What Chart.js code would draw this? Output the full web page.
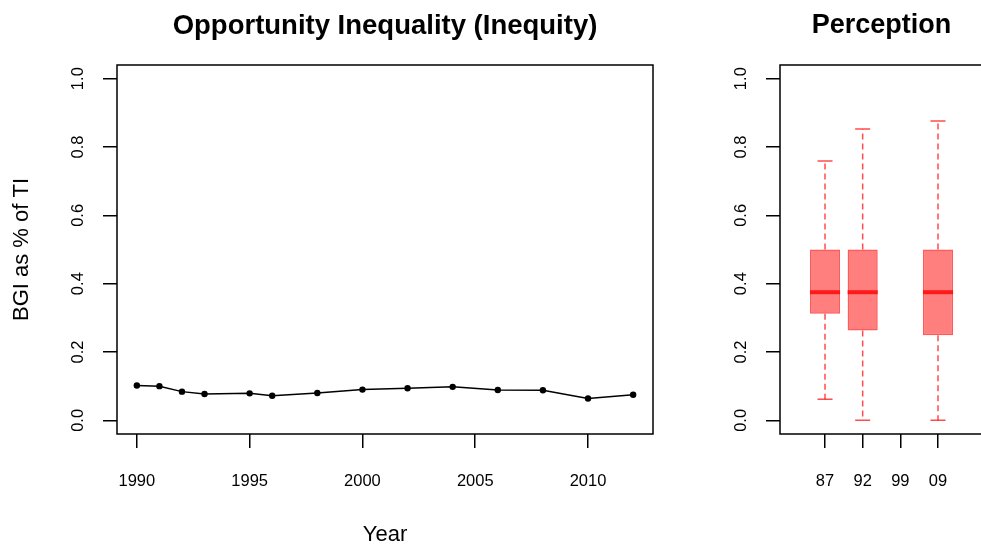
<!DOCTYPE html>
<html>
<head>
<meta charset="utf-8">
<script src="https://cdn.jsdelivr.net/npm/chart.js@4"></script>
<style>
  html, body { margin: 0; padding: 0; background: #fff; overflow: hidden; width: 981px; height: 545px; }
  canvas { position: absolute; top: 0; }
  #inequityChart { left: 0; }
  #perceptionChart { left: 700px; }
</style>
</head>
<body>
<canvas id="inequityChart" width="770" height="545"></canvas>
<canvas id="perceptionChart" width="363" height="545"></canvas>
<script>
const years = [1990, 1991, 1992, 1993, 1995, 1996, 1998, 2000, 2002, 2004, 2006, 2008, 2010, 2012];
const bgiShare = [0.102, 0.100, 0.084, 0.077, 0.079, 0.072, 0.080, 0.090, 0.094, 0.098, 0.089, 0.088, 0.064, 0.075];
const yearTicks = [1990, 1995, 2000, 2005, 2010];
const shareTicks = [0, 0.2, 0.4, 0.6, 0.8, 1.0];

const waves = ['87', '92', '99', '09'];
const whiskerLow = [0.062, 0, null, 0];
const boxQ1 = [0.312, 0.263, null, 0.249];
const boxMedian = [0.375, 0.375, null, 0.375];
const boxQ3 = [0.5, 0.5, null, 0.5];
const whiskerHigh = [0.759, 0.853, null, 0.876];

Chart.defaults.font.family = '"Liberation Sans", Arial, Helvetica, sans-serif';
Chart.defaults.color = '#000';

const frame = {
  id: 'frame',
  afterDraw(chart) {
    const { ctx, chartArea: a } = chart;
    ctx.save();
    ctx.strokeStyle = '#000';
    ctx.lineWidth = 1.5;
    ctx.strokeRect(a.left, a.top, a.right - a.left, a.bottom - a.top);
    ctx.restore();
  }
};

const boxWhiskers = {
  id: 'boxWhiskers',
  afterDatasetsDraw(chart) {
    const { ctx, scales: { x, y } } = chart;
    const meta = chart.getDatasetMeta(0);
    ctx.save();
    waves.forEach((w, i) => {
      if (boxQ1[i] === null) return;
      const cx = x.getPixelForValue(i + 1);
      const half = meta.data[i].width / 2;
      const cap = half / 2;
      ctx.strokeStyle = 'rgba(255,0,0,0.7)';
      ctx.lineWidth = 1.5;
      ctx.setLineDash([6, 4]);
      ctx.beginPath();
      ctx.moveTo(cx, y.getPixelForValue(boxQ3[i]));
      ctx.lineTo(cx, y.getPixelForValue(whiskerHigh[i]));
      ctx.moveTo(cx, y.getPixelForValue(boxQ1[i]));
      ctx.lineTo(cx, y.getPixelForValue(whiskerLow[i]));
      ctx.stroke();
      ctx.setLineDash([]);
      ctx.beginPath();
      ctx.moveTo(cx - cap, y.getPixelForValue(whiskerHigh[i]));
      ctx.lineTo(cx + cap, y.getPixelForValue(whiskerHigh[i]));
      ctx.moveTo(cx - cap, y.getPixelForValue(whiskerLow[i]));
      ctx.lineTo(cx + cap, y.getPixelForValue(whiskerLow[i]));
      ctx.stroke();
      ctx.strokeStyle = 'rgba(255,0,0,0.8)';
      ctx.lineWidth = 4;
      ctx.beginPath();
      ctx.moveTo(cx - half, y.getPixelForValue(boxMedian[i]));
      ctx.lineTo(cx + half, y.getPixelForValue(boxMedian[i]));
      ctx.stroke();
    });
    ctx.restore();
  }
};

const tickGrid = { drawOnChartArea: false, color: '#000', lineWidth: 1.5, tickLength: 14 };

const yAxis = (width, title) => ({
  min: -0.04,
  max: 1.04,
  afterBuildTicks: s => { s.ticks = shareTicks.map(v => ({ value: v })); },
  afterFit: s => { s.width = width; },
  grid: tickGrid,
  border: { display: false },
  ticks: {
    minRotation: 90,
    maxRotation: 90,
    crossAlign: 'center',
    padding: 13,
    font: { size: 16.5 },
    callback: v => v.toFixed(1)
  },
  title: title
});

// empty axis on the right so the title centres over the plot box
const spacer = width => ({
  position: 'right',
  display: true,
  afterFit: s => { s.width = width; },
  grid: { display: false },
  border: { display: false },
  ticks: { display: false }
});

const chartTitle = (text, size) => ({
  display: true,
  text: text,
  color: '#000',
  font: { size: size, weight: 'bold' },
  padding: { top: 9.5, bottom: 65 - 9.5 - size * 1.2 }
});

new Chart(document.getElementById('inequityChart').getContext('2d'), {
  type: 'line',
  data: {
    datasets: [{
      data: years.map((yr, i) => ({ x: yr, y: bgiShare[i] })),
      borderColor: '#000',
      borderWidth: 1.5,
      pointRadius: 3.2,
      pointBackgroundColor: '#000',
      pointBorderWidth: 0,
      tension: 0
    }]
  },
  options: {
    responsive: false,
    animation: false,
    layout: { padding: 0 },
    plugins: {
      legend: { display: false },
      tooltip: { enabled: false },
      title: chartTitle('Opportunity Inequality (Inequity)', 27.5)
    },
    scales: {
      x: {
        type: 'linear',
        min: 1989.12,
        max: 2012.88,
        afterBuildTicks: s => { s.ticks = yearTicks.map(v => ({ value: v })); },
        afterFit: s => { s.height = 111; },
        grid: tickGrid,
        border: { display: false },
        ticks: { padding: 24, font: { size: 16.5 }, callback: v => String(v) },
        title: { display: true, text: 'Year', font: { size: 22 }, padding: { top: 0, bottom: -3 } }
      },
      y: yAxis(117, { display: true, text: 'BGI as % of TI', font: { size: 22 }, padding: { top: 9, bottom: 0 } }),
      pad: spacer(117)
    }
  },
  plugins: [frame]
});

new Chart(document.getElementById('perceptionChart').getContext('2d'), {
  type: 'bar',
  data: {
    datasets: [{
      data: waves.map((w, i) => ({ x: i + 1, y: boxQ1[i] === null ? null : [boxQ1[i], boxQ3[i]] })),
      backgroundColor: 'rgba(255,0,0,0.5)',
      borderColor: 'rgba(255,0,0,0.65)',
      borderWidth: 1.5,
      borderSkipped: false,
      categoryPercentage: 1,
      barPercentage: 0.8
    }]
  },
  options: {
    responsive: false,
    animation: false,
    layout: { padding: 0 },
    plugins: {
      legend: { display: false },
      tooltip: { enabled: false },
      title: chartTitle('Perception', 27)
    },
    scales: {
      x: {
        type: 'linear',
        offset: false,
        min: -0.195,
        max: 5.168,
        afterBuildTicks: s => { s.ticks = waves.map((w, i) => ({ value: i + 1 })); },
        afterFit: s => { s.height = 111; },
        grid: Object.assign({ offset: false }, tickGrid),
        border: { display: false },
        ticks: { padding: 24, font: { size: 16.5 }, callback: v => waves[v - 1] }
      },
      y: yAxis(80, { display: false }),
      pad: spacer(81)
    }
  },
  plugins: [boxWhiskers, frame]
});
</script>
</body>
</html>
